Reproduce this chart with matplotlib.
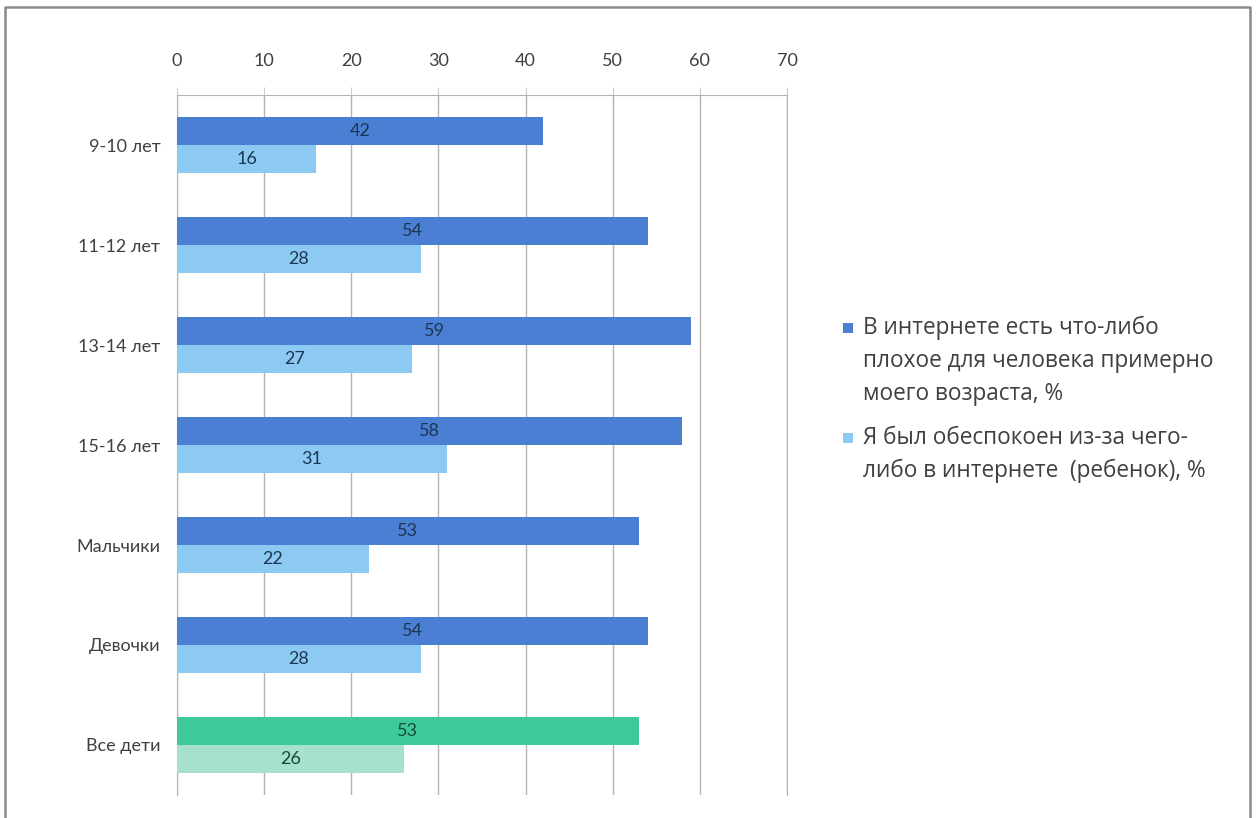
import matplotlib
matplotlib.use("Agg")
import matplotlib.pyplot as plt
from matplotlib.patches import Rectangle
from matplotlib.lines import Line2D
import numpy as np

categories = ["9-10 лет", "11-12 лет", "13-14 лет", "15-16 лет", "Мальчики", "Девочки", "Все дети"]
series_bad = [42, 54, 59, 58, 53, 54, 53]
series_worried = [16, 28, 27, 31, 22, 28, 26]
legend_lines = [["В интернете есть что-либо", "плохое для человека примерно", "моего возраста, %"],
                ["Я был обеспокоен из-за чего-", "либо в интернете  (ребенок), %"]]
xticks = [0, 10, 20, 30, 40, 50, 60, 70]

plt.rcParams['font.family'] = ['Lato', 'DejaVu Sans']

dark = "#4a7fd4"
light = "#8ccaf4"
green_dark = "#3ec99a"
green_light = "#a6e2cb"
text_blue = "#1c3553"
text_green = "#174a36"
grid_c = "#b4b4b4"

W, H = 1257, 818
fig = plt.figure(figsize=(W/100, H/100), dpi=100)
ax = fig.add_axes([177/W, 1-795/H, 610/W, 700/H])

n = len(categories)
y = np.arange(n)
h = 0.28
for i in range(n):
    c1, c2, tc = (dark, light, text_blue) if i < n-1 else (green_dark, green_light, text_green)
    ax.barh(y[i] - h/2, series_bad[i], height=h, color=c1, zorder=3)
    ax.barh(y[i] + h/2, series_worried[i], height=h, color=c2, zorder=3)
    ax.text(series_bad[i]/2, y[i] - h/2, str(series_bad[i]), ha='center', va='center',
            fontsize=13, color=tc, zorder=4)
    ax.text(series_worried[i]/2, y[i] + h/2, str(series_worried[i]), ha='center', va='center',
            fontsize=13, color=tc, zorder=4)

ax.set_xlim(0, 70)
ax.set_ylim(n - 0.5, -0.5)
ax.set_xticks(xticks)
ax.xaxis.tick_top()
ax.tick_params(axis='x', length=6, color='#cccccc', labelsize=13, labelcolor='#404040', pad=13)
ax.set_yticks(y)
ax.set_yticklabels(categories)
ax.tick_params(axis='y', length=0, labelsize=13, labelcolor='#404040', pad=12)
ax.grid(axis='x', color=grid_c, linewidth=1, zorder=0)
ax.spines['bottom'].set_visible(False)
for s in ['top', 'left', 'right']:
    ax.spines[s].set_color(grid_c)

# legend drawn manually (handles aligned with first text line)
legend_colors = [dark, light]
entry_y = [328, 438]
line_gap = 33
for col, y0, lines in zip(legend_colors, entry_y, legend_lines):
    fig.patches.append(Rectangle((843/W, 1-(y0+5)/H), 10/W, 10/H, transform=fig.transFigure,
                                 facecolor=col, edgecolor='none'))
    for k, line in enumerate(lines):
        fig.text(863/W, 1-(y0 + k*line_gap)/H, line, ha='left', va='center',
                 fontsize=16.3, color='#404040', family=['Open Sans', 'DejaVu Sans'])

# outer frame (left, top, right)
frame_x = [5/W, 5/W, 1250/W, 1250/W]
frame_y = [-0.01, 1-7/H, 1-7/H, -0.01]
fig.lines.append(Line2D(frame_x, frame_y, transform=fig.transFigure,
                        color='#8a8a8a', linewidth=1.8))

fig.savefig("out.png", dpi=100)
